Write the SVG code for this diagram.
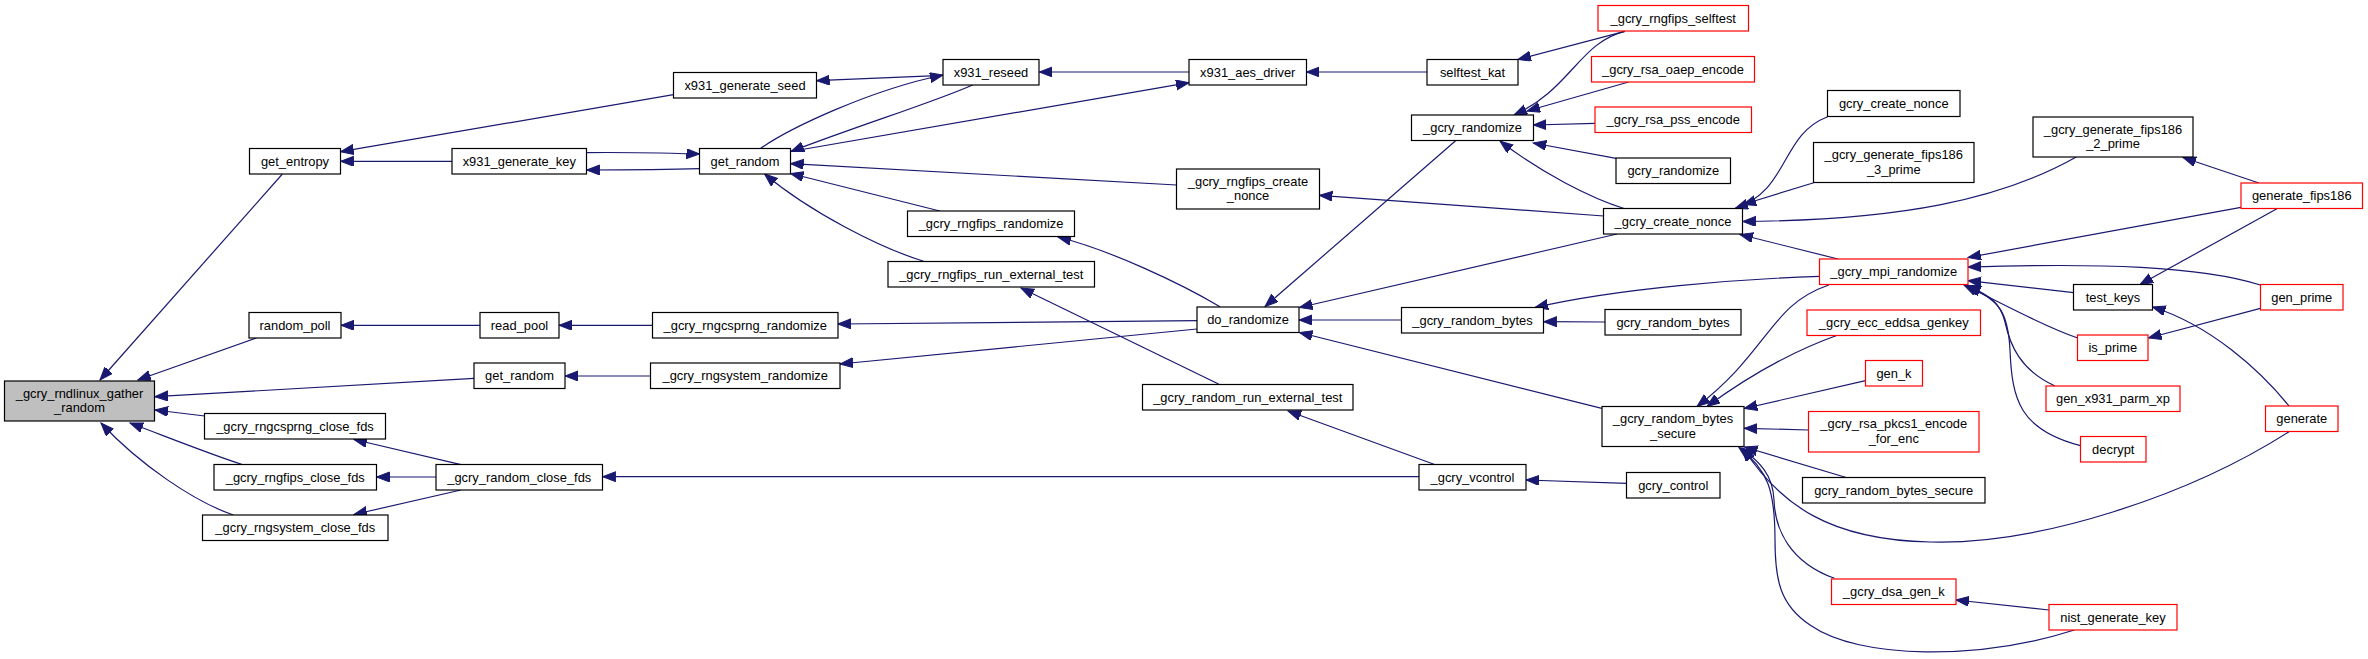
<svg xmlns="http://www.w3.org/2000/svg" width="2368" height="659" viewBox="0 0 2368 659">
<style>
.n rect{fill:#fff;stroke:#000;stroke-width:1.2}
.n.r rect{stroke:#ff0000}
.n.root rect{fill:#bfbfbf}
text{font-family:"Liberation Sans",Arial,Helvetica,sans-serif;font-size:12.9px;text-anchor:middle;fill:#000}
.e path{fill:none;stroke:#191970;stroke-width:1.2;marker-end:url(#ah)}
</style>
<defs>
<marker id="ah" markerUnits="userSpaceOnUse" markerWidth="14" markerHeight="11" refX="13" refY="5" orient="auto">
<path d="M0,0 L13,5 L0,10 z" fill="#191970" stroke="#191970" stroke-width="1"/>
</marker>
</defs>
<rect width="2368" height="659" fill="#fff"/>
<g id="edges" class="e">
<path d="M673.5,94.7 L340.6,151.7"/>
<path d="M452,161.3 L340.6,161.3"/>
<path d="M282.4,174 L100,380"/>
<path d="M256.4,338 L137.8,380"/>
<path d="M474,378.3 L155,396.7"/>
<path d="M204.7,416 L155,410"/>
<path d="M243,464.7 C215,456 175,440 130,423"/>
<path d="M233.4,515 C195,502 140,465 101,423"/>
<path d="M480,325.3 L341,325.3"/>
<path d="M652.4,325.3 L559,325.3"/>
<path d="M650.5,376 L565,376"/>
<path d="M586.6,152.7 C620,152 660,153 699.5,154"/>
<path d="M699.5,168.7 C660,170 620,170 586.6,170"/>
<path d="M943,75.3 L816.6,80.7"/>
<path d="M760.7,148.3 C790,128 870,90 943,75"/>
<path d="M973,84.7 C940,100 860,125 791,151.5"/>
<path d="M790.6,151.5 L1189,82.7"/>
<path d="M1189,72 L1039.3,72"/>
<path d="M1427,72 L1306.4,72"/>
<path d="M1624.8,31.3 L1518,59.5"/>
<path d="M1176.7,185 L790.6,163.7"/>
<path d="M939.8,211 L790.6,173.5"/>
<path d="M925,261.7 C880,248 810,212 764.5,174"/>
<path d="M1220,306.7 C1180,283 1110,250 1058,237"/>
<path d="M1219,384.3 L1021,288"/>
<path d="M1197,320.7 L838,324"/>
<path d="M1197,329 L840,364"/>
<path d="M1418.9,476.7 L602.7,476.7"/>
<path d="M1435.3,464.7 L1288,411"/>
<path d="M1626.3,483.3 L1526,480"/>
<path d="M461,464.7 L354,439.5"/>
<path d="M436,477 L376.5,477"/>
<path d="M461,490 L354,514.5"/>
<path d="M1603.7,216 L1319.4,195.3"/>
<path d="M1455.6,140.7 L1265,306.5"/>
<path d="M1617,234 L1299.5,307.5"/>
<path d="M1401.3,320 L1299,320"/>
<path d="M1601.8,408.3 L1299.5,332.5"/>
<path d="M1624.8,31.3 C1580,42 1570,90 1514,115"/>
<path d="M1628.6,82 L1527,111"/>
<path d="M1595,123.3 L1533.3,125"/>
<path d="M1616,158.3 L1533.3,143"/>
<path d="M1624.8,208.7 C1590,198 1540,172 1500,141"/>
<path d="M1605,322 L1543.7,321.7"/>
<path d="M1819.4,276.3 C1740,279 1620,288 1535,307.5"/>
<path d="M1827.6,116.7 C1780,135 1790,190 1735,208.5"/>
<path d="M1813.75,182.7 L1743,204.5"/>
<path d="M2076.25,157 C2000,200 1900,220 1742.6,221.5"/>
<path d="M1838,259 L1740,234.5"/>
<path d="M2258.9,183 L2183,157.5"/>
<path d="M2240.9,207.3 L1968,257.5"/>
<path d="M2260.4,285 C2200,266 2100,263 1968,267"/>
<path d="M2073.6,292.7 L1968,280.7"/>
<path d="M2077.75,338 C2040,325 2000,302 1964,285"/>
<path d="M2055,386 C2020,370 2010,345 2005,322 C2000,302 1990,296 1968,285.5"/>
<path d="M2080.4,445.7 C2020,430 2012,400 2010,350 C2008,312 2000,300 1966,285.5"/>
<path d="M2276.9,208.7 L2140,284.5"/>
<path d="M2260.4,308.3 L2148.5,338"/>
<path d="M2289,406 C2260,370 2210,325 2152.5,307"/>
<path d="M1828.75,285 C1770,305 1770,350 1697,406.5"/>
<path d="M1838,335 C1790,352 1750,375 1707,406.5"/>
<path d="M1865.5,380.7 L1744.2,408.5"/>
<path d="M1808.5,430 L1744.2,428.3"/>
<path d="M1847,477.7 L1744.5,447"/>
<path d="M2289,431.7 C2190,495 2040,545 1930,542 C1830,540 1780,505 1743,448"/>
<path d="M1834.4,578.3 C1790,562 1775,530 1774,500 C1773,475 1760,462 1741,448"/>
<path d="M2074.4,630 C1980,660 1860,660 1810,625 C1780,605 1775,580 1775,540 C1775,490 1768,470 1739,447.5"/>
<path d="M2048.9,610 L1955.9,600"/>
</g>
<g id="n_gather" class="n root"><rect x="4.5" y="381" width="150" height="40"/><text x="79.5" y="397.8">_gcry_rndlinux_gather</text><text x="79.5" y="412">_random</text></g>
<g id="n_get_entropy" class="n"><rect x="249.5" y="148.5" width="91" height="25.5"/><text x="295" y="165.8">get_entropy</text></g>
<g id="n_random_poll" class="n"><rect x="249" y="312.5" width="92" height="25.5"/><text x="295" y="329.8">random_poll</text></g>
<g id="n_get_random_2" class="n"><rect x="474" y="363" width="91" height="25.5"/><text x="519.5" y="380.3">get_random</text></g>
<g id="n_rngcsprng_close_fds" class="n"><rect x="204.5" y="413.5" width="181" height="25.5"/><text x="295" y="430.8">_gcry_rngcsprng_close_fds</text></g>
<g id="n_rngfips_close_fds" class="n"><rect x="214" y="464.5" width="162.5" height="25.5"/><text x="295.25" y="481.8">_gcry_rngfips_close_fds</text></g>
<g id="n_rngsystem_close_fds" class="n"><rect x="202.5" y="515" width="185.5" height="25.5"/><text x="295.25" y="532.3">_gcry_rngsystem_close_fds</text></g>
<g id="n_x931_generate_key" class="n"><rect x="452" y="148.5" width="134.5" height="25.5"/><text x="519.25" y="165.8">x931_generate_key</text></g>
<g id="n_read_pool" class="n"><rect x="480" y="312.5" width="79" height="25.5"/><text x="519.5" y="329.8">read_pool</text></g>
<g id="n_random_close_fds" class="n"><rect x="436" y="464.5" width="166.5" height="25.5"/><text x="519.25" y="481.8">_gcry_random_close_fds</text></g>
<g id="n_x931_generate_seed" class="n"><rect x="673.5" y="72.5" width="143" height="25.5"/><text x="745" y="89.8">x931_generate_seed</text></g>
<g id="n_get_random_1" class="n"><rect x="699.5" y="148.5" width="91" height="25.5"/><text x="745" y="165.8">get_random</text></g>
<g id="n_rngcsprng_randomize" class="n"><rect x="652.5" y="312.5" width="185.5" height="25.5"/><text x="745.25" y="329.8">_gcry_rngcsprng_randomize</text></g>
<g id="n_rngsystem_randomize" class="n"><rect x="650.5" y="363" width="189.5" height="25.5"/><text x="745.25" y="380.3">_gcry_rngsystem_randomize</text></g>
<g id="n_x931_reseed" class="n"><rect x="943" y="59.5" width="96" height="25.5"/><text x="991" y="76.8">x931_reseed</text></g>
<g id="n_rngfips_randomize" class="n"><rect x="907.5" y="211" width="167" height="25.5"/><text x="991" y="228.3">_gcry_rngfips_randomize</text></g>
<g id="n_rngfips_run_external_test" class="n"><rect x="888" y="261.5" width="206.5" height="25.5"/><text x="991.25" y="278.8">_gcry_rngfips_run_external_test</text></g>
<g id="n_random_run_external_test" class="n"><rect x="1142.5" y="384.5" width="210.5" height="25.5"/><text x="1247.75" y="401.8">_gcry_random_run_external_test</text></g>
<g id="n_x931_aes_driver" class="n"><rect x="1189" y="59.5" width="117.5" height="25.5"/><text x="1247.75" y="76.8">x931_aes_driver</text></g>
<g id="n_rngfips_create_nonce" class="n"><rect x="1176.5" y="169" width="143" height="40"/><text x="1248" y="185.8">_gcry_rngfips_create</text><text x="1248" y="200">_nonce</text></g>
<g id="n_do_randomize" class="n"><rect x="1197" y="307" width="102" height="25.5"/><text x="1248" y="324.3">do_randomize</text></g>
<g id="n_selftest_kat" class="n"><rect x="1427" y="59.5" width="91" height="25.5"/><text x="1472.5" y="76.8">selftest_kat</text></g>
<g id="n__gcry_randomize" class="n"><rect x="1411.5" y="115" width="122" height="25.5"/><text x="1472.5" y="132.3">_gcry_randomize</text></g>
<g id="n__gcry_random_bytes" class="n"><rect x="1401.5" y="307.5" width="142" height="25.5"/><text x="1472.5" y="324.8">_gcry_random_bytes</text></g>
<g id="n__gcry_vcontrol" class="n"><rect x="1419" y="464.5" width="107" height="25.5"/><text x="1472.5" y="481.8">_gcry_vcontrol</text></g>
<g id="n_rngfips_selftest" class="n r"><rect x="1598" y="5.5" width="150.5" height="25.5"/><text x="1673.25" y="22.8">_gcry_rngfips_selftest</text></g>
<g id="n_rsa_oaep_encode" class="n r"><rect x="1591.5" y="56.5" width="163" height="25.5"/><text x="1673" y="73.8">_gcry_rsa_oaep_encode</text></g>
<g id="n_rsa_pss_encode" class="n r"><rect x="1595" y="107" width="156.5" height="25.5"/><text x="1673.25" y="124.3">_gcry_rsa_pss_encode</text></g>
<g id="n_gcry_randomize" class="n"><rect x="1616" y="158" width="114.5" height="25.5"/><text x="1673.25" y="175.3">gcry_randomize</text></g>
<g id="n__gcry_create_nonce" class="n"><rect x="1603.5" y="208.5" width="139" height="25.5"/><text x="1673" y="225.8">_gcry_create_nonce</text></g>
<g id="n_gcry_random_bytes" class="n"><rect x="1605" y="309.5" width="136" height="25.5"/><text x="1673" y="326.8">gcry_random_bytes</text></g>
<g id="n__gcry_random_bytes_secure" class="n"><rect x="1602" y="406.5" width="142" height="40"/><text x="1673" y="423.3">_gcry_random_bytes</text><text x="1673" y="437.5">_secure</text></g>
<g id="n_gcry_control" class="n"><rect x="1626.5" y="472.5" width="93.5" height="25.5"/><text x="1673.25" y="489.8">gcry_control</text></g>
<g id="n_gcry_create_nonce" class="n"><rect x="1827.5" y="90.5" width="132.5" height="26"/><text x="1893.75" y="108">gcry_create_nonce</text></g>
<g id="n_fips186_3_prime" class="n"><rect x="1813.5" y="142.5" width="160.5" height="40"/><text x="1893.75" y="159.3">_gcry_generate_fips186</text><text x="1893.75" y="173.5">_3_prime</text></g>
<g id="n_mpi_randomize" class="n r"><rect x="1819.5" y="259" width="148.5" height="25.5"/><text x="1893.75" y="276.3">_gcry_mpi_randomize</text></g>
<g id="n_ecc_eddsa_genkey" class="n r"><rect x="1807" y="310" width="173.5" height="25.5"/><text x="1893.75" y="327.3">_gcry_ecc_eddsa_genkey</text></g>
<g id="n_gen_k" class="n r"><rect x="1865.5" y="360.5" width="57" height="25.5"/><text x="1894" y="377.8">gen_k</text></g>
<g id="n_rsa_pkcs1_encode_for_enc" class="n r"><rect x="1808.5" y="411.5" width="170.5" height="40.5"/><text x="1893.75" y="428.3">_gcry_rsa_pkcs1_encode</text><text x="1893.75" y="442.5">_for_enc</text></g>
<g id="n_gcry_random_bytes_secure" class="n"><rect x="1802.5" y="477.5" width="182.5" height="25.5"/><text x="1893.75" y="494.8">gcry_random_bytes_secure</text></g>
<g id="n_dsa_gen_k" class="n r"><rect x="1831.5" y="579" width="124.5" height="25.5"/><text x="1893.75" y="596.3">_gcry_dsa_gen_k</text></g>
<g id="n_fips186_2_prime" class="n"><rect x="2033" y="117" width="160" height="40"/><text x="2113" y="133.8">_gcry_generate_fips186</text><text x="2113" y="148">_2_prime</text></g>
<g id="n_test_keys" class="n"><rect x="2073.5" y="284.5" width="79" height="25.5"/><text x="2113" y="301.8">test_keys</text></g>
<g id="n_is_prime" class="n r"><rect x="2077.5" y="335" width="70.5" height="25.5"/><text x="2112.75" y="352.3">is_prime</text></g>
<g id="n_gen_x931_parm_xp" class="n r"><rect x="2046" y="386" width="134" height="25.5"/><text x="2113" y="403.3">gen_x931_parm_xp</text></g>
<g id="n_decrypt" class="n r"><rect x="2080.5" y="436.5" width="65.5" height="25.5"/><text x="2113.25" y="453.8">decrypt</text></g>
<g id="n_nist_generate_key" class="n r"><rect x="2049" y="604.5" width="128" height="25.5"/><text x="2113" y="621.8">nist_generate_key</text></g>
<g id="n_generate_fips186" class="n r"><rect x="2241" y="183" width="121.5" height="25.5"/><text x="2301.75" y="200.3">generate_fips186</text></g>
<g id="n_gen_prime" class="n r"><rect x="2260.5" y="284.5" width="82.5" height="25.5"/><text x="2301.75" y="301.8">gen_prime</text></g>
<g id="n_generate" class="n r"><rect x="2265.5" y="406" width="72.5" height="25.5"/><text x="2301.75" y="423.3">generate</text></g>
</svg>
